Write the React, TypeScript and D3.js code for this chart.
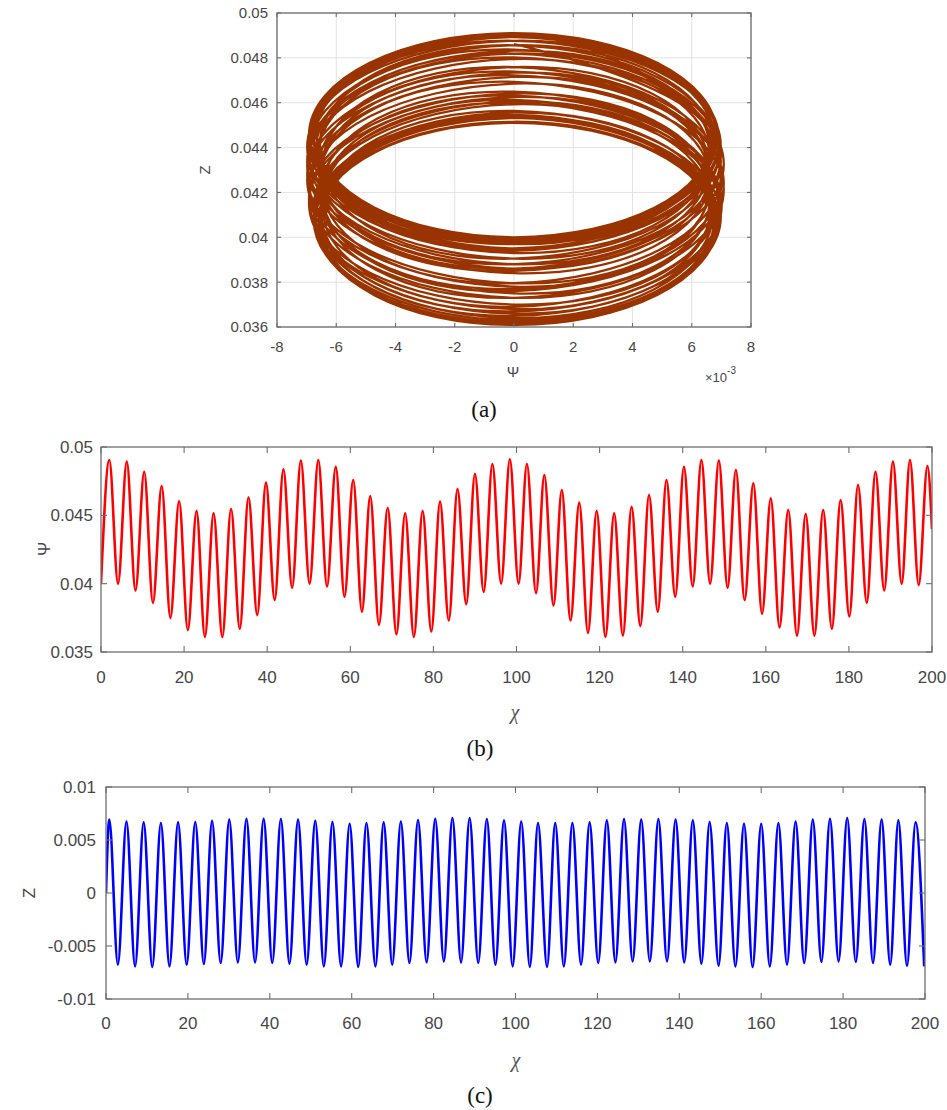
import React from "react";
import * as d3 from "d3";

// ---------------- DATA ----------------
// Panel (b): Ψ vs χ — extremes of the red oscillation
const psiStart = [0, 0.04];
const psiEnd = [200, 0.044];
const psiPeakChi = [2.0, 6.2, 10.4, 14.6, 18.8, 23.0, 27.1, 31.3, 35.5, 39.7, 43.9, 48.1, 52.3, 56.5, 60.7, 64.8, 69.0, 73.2, 77.4, 81.6, 85.8, 90.0, 94.2, 98.4, 102.5, 106.7, 110.9, 115.1, 119.3, 123.5, 127.7, 131.9, 136.1, 140.3, 144.5, 148.7, 152.8, 157.0, 161.2, 165.4, 169.6, 173.8, 178.0, 182.2, 186.4, 190.6, 194.7, 198.9];
const psiPeakVal = [0.04905, 0.04893, 0.04819, 0.04715, 0.04605, 0.04532, 0.04515, 0.04546, 0.04632, 0.04739, 0.04837, 0.049, 0.04905, 0.04856, 0.04759, 0.04641, 0.04556, 0.04515, 0.04532, 0.046, 0.04693, 0.04802, 0.04876, 0.0491, 0.04876, 0.04795, 0.04685, 0.04593, 0.04532, 0.04515, 0.04563, 0.04649, 0.04759, 0.04856, 0.04905, 0.049, 0.04832, 0.04734, 0.04625, 0.04539, 0.0451, 0.04539, 0.04612, 0.04722, 0.04819, 0.04893, 0.04905, 0.04861];
const psiTroughChi = [4.1, 8.3, 12.5, 16.7, 20.9, 25.0, 29.2, 33.4, 37.6, 41.8, 46.0, 50.2, 54.4, 58.6, 62.8, 66.9, 71.1, 75.3, 79.5, 83.7, 87.9, 92.1, 96.3, 100.5, 104.7, 108.9, 113.0, 117.2, 121.4, 125.6, 129.8, 134.0, 138.2, 142.4, 146.6, 150.8, 154.9, 159.1, 163.3, 167.5, 171.7, 175.9, 180.1, 184.3, 188.5, 192.7, 196.8];
const psiTroughVal = [0.04, 0.0395, 0.0386, 0.0375, 0.0366, 0.0361, 0.0361, 0.0367, 0.0377, 0.0388, 0.0397, 0.04, 0.0398, 0.03905, 0.03795, 0.037, 0.0363, 0.0361, 0.0365, 0.0373, 0.0385, 0.0394, 0.04, 0.04, 0.0393, 0.0384, 0.0373, 0.0364, 0.0361, 0.0362, 0.0369, 0.03795, 0.03905, 0.0398, 0.04, 0.0397, 0.0388, 0.0378, 0.0368, 0.0362, 0.0362, 0.0367, 0.0376, 0.0386, 0.0395, 0.04, 0.0399];

// Panel (c): Z vs χ — extremes of the blue oscillation
const zStart = [0, 0.0];
const zPeakChi = [0.8, 5.0, 9.2, 13.4, 17.6, 21.8, 25.9, 30.1, 34.3, 38.5, 42.7, 46.9, 51.1, 55.3, 59.5, 63.6, 67.8, 72.0, 76.2, 80.4, 84.6, 88.8, 93.0, 97.2, 101.4, 105.5, 109.7, 113.9, 118.1, 122.3, 126.5, 130.7, 134.9, 139.1, 143.3, 147.4, 151.6, 155.8, 160.0, 164.2, 168.4, 172.6, 176.8, 181.0, 185.2, 189.4, 193.5, 197.7];
const zPeakVal = [0.00692, 0.00675, 0.00666, 0.0066, 0.00666, 0.0067, 0.00682, 0.00692, 0.00701, 0.00701, 0.00698, 0.00692, 0.00682, 0.0067, 0.00654, 0.0066, 0.00666, 0.00675, 0.00689, 0.00699, 0.00708, 0.00708, 0.00698, 0.00685, 0.00675, 0.0066, 0.0066, 0.0066, 0.00666, 0.00685, 0.00698, 0.00692, 0.00698, 0.00692, 0.00685, 0.0067, 0.0066, 0.00654, 0.00654, 0.0066, 0.00675, 0.00692, 0.00701, 0.00708, 0.00698, 0.00692, 0.00685, 0.00666];
const zTroughChi = [2.9, 7.1, 11.3, 15.5, 19.7, 23.9, 28.0, 32.2, 36.4, 40.6, 44.8, 49.0, 53.2, 57.4, 61.6, 65.8, 69.9, 74.1, 78.3, 82.5, 86.7, 90.9, 95.1, 99.3, 103.5, 107.7, 111.8, 116.0, 120.2, 124.4, 128.6, 132.8, 137.0, 141.2, 145.4, 149.6, 153.7, 157.9, 162.1, 166.3, 170.5, 174.7, 178.9, 183.1, 187.3, 191.5, 195.6, 199.8];
const zTroughVal = [-0.00676, -0.00692, -0.00698, -0.00692, -0.00676, -0.0067, -0.0066, -0.00655, -0.00655, -0.0066, -0.00667, -0.00676, -0.00692, -0.00692, -0.00698, -0.00692, -0.00676, -0.0066, -0.00655, -0.00645, -0.00655, -0.0066, -0.00676, -0.00692, -0.00698, -0.00698, -0.00692, -0.00676, -0.0066, -0.00655, -0.00645, -0.00645, -0.00645, -0.00655, -0.00667, -0.00686, -0.00692, -0.00698, -0.00692, -0.00676, -0.0066, -0.00651, -0.00645, -0.00651, -0.0066, -0.00676, -0.00686, -0.00692];

// Tick labels
const aXTicks = [-8, -6, -4, -2, 0, 2, 4, 6, 8]; // ×10^-3
const aYTicks = [0.036, 0.038, 0.04, 0.042, 0.044, 0.046, 0.048, 0.05];
const bYTicks = [0.035, 0.04, 0.045, 0.05];
const cYTicks = [-0.01, -0.005, 0, 0.005, 0.01];
const chiTicks = [0, 20, 40, 60, 80, 100, 120, 140, 160, 180, 200];

// ---------------- helpers ----------------
type P = { chi: number; v: number; kind: string };

function merge(start: number[] | null, end: number[] | null, pc: number[], pv: number[], tc: number[], tv: number[]): P[] {
  const pts: P[] = [];
  if (start) pts.push({ chi: start[0], v: start[1], kind: "s" });
  pc.forEach((c, i) => pts.push({ chi: c, v: pv[i], kind: "p" }));
  tc.forEach((c, i) => pts.push({ chi: c, v: tv[i], kind: "t" }));
  if (end) pts.push({ chi: end[0], v: end[1], kind: "e" });
  return pts.sort((a, b) => a.chi - b.chi);
}

const FONT = "'Liberation Sans', Arial, sans-serif";
const SERIF = "'Liberation Serif', 'DejaVu Serif', serif";
const TXT = "#474747";
const BOX = "#6e6e6e";

function fmt(v: number) {
  return String(parseFloat(v.toFixed(4)));
}

interface BoxProps {
  l: number; r: number; t: number; b: number;
  xs: d3.ScaleLinear<number, number>;
  ys: d3.ScaleLinear<number, number>;
  xt: number[]; yt: number[];
  xLab: (v: number) => string; yLab: (v: number) => string;
  tick: number; fs: number;
  xLabY: number; yLabX: number;
}

function Grid(p: BoxProps) {
  const { l, r, t, b, xs, ys, xt, yt } = p;
  return (
    <g stroke="#e2e2e2" strokeWidth={1}>
      {xt.map((v) => <line key={"gx" + v} x1={xs(v)} x2={xs(v)} y1={t} y2={b} />)}
      {yt.map((v) => <line key={"gy" + v} x1={l} x2={r} y1={ys(v)} y2={ys(v)} />)}
    </g>
  );
}

function FrameTop(p: BoxProps) {
  const { l, r, t, b, xs, ys, xt, yt, tick, fs } = p;
  return (
    <g>
      <rect x={l} y={t} width={r - l} height={b - t} fill="none" stroke={BOX} strokeWidth={1.3} />
      <g stroke={BOX} strokeWidth={1.1}>
        {xt.map((v) => (
          <g key={"tx" + v}>
            <line x1={xs(v)} x2={xs(v)} y1={b} y2={b - tick} />
            <line x1={xs(v)} x2={xs(v)} y1={t} y2={t + tick} />
          </g>
        ))}
        {yt.map((v) => (
          <g key={"ty" + v}>
            <line x1={l} x2={l + tick} y1={ys(v)} y2={ys(v)} />
            <line x1={r} x2={r - tick} y1={ys(v)} y2={ys(v)} />
          </g>
        ))}
      </g>
      <g fill={TXT} fontFamily={FONT} fontSize={fs}>
        {xt.map((v) => (
          <text key={"lx" + v} x={xs(v)} y={p.xLabY} textAnchor="middle">{p.xLab(v)}</text>
        ))}
        {yt.map((v) => (
          <text key={"ly" + v} x={p.yLabX} y={ys(v)} dy="0.36em" textAnchor="end">{p.yLab(v)}</text>
        ))}
      </g>
    </g>
  );
}

export default function App() {
  // ---- layouts ----
  const A = { l: 277, r: 751, t: 13, b: 327 };
  const B = { l: 101, r: 932, t: 447, b: 652 };
  const C = { l: 106, r: 925, t: 787, b: 999 };

  const ax = d3.scaleLinear().domain([-0.008, 0.008]).range([A.l, A.r]);
  const ay = d3.scaleLinear().domain([0.036, 0.05]).range([A.b, A.t]);
  const bx = d3.scaleLinear().domain([0, 200]).range([B.l, B.r]);
  const by = d3.scaleLinear().domain([0.035, 0.05]).range([B.b, B.t]);
  const cx = d3.scaleLinear().domain([0, 200]).range([C.l, C.r]);
  const cy = d3.scaleLinear().domain([-0.01, 0.01]).range([C.b, C.t]);

  const psiPts = merge(psiStart, psiEnd, psiPeakChi, psiPeakVal, psiTroughChi, psiTroughVal);
  const zPts = merge(zStart, null, zPeakChi, zPeakVal, zTroughChi, zTroughVal);

  const lineB = d3.line<P>().x((d) => bx(d.chi)).y((d) => by(d.v)).curve(d3.curveMonotoneX);
  const lineC = d3.line<P>().x((d) => cx(d.chi)).y((d) => cy(d.v)).curve(d3.curveMonotoneX);

  // phase portrait: Ψ extremes occur at Z≈0; at Z extremes Ψ sits midway between its neighbouring extremes
  type Q = { x: number; y: number; chi: number };
  const psiExt = psiPts.filter((d) => d.kind !== "e");
  const phase: Q[] = [];
  zPts.forEach((d) => {
    if (d.kind !== "p" && d.kind !== "t") return;
    const prev = [...psiExt].reverse().find((e) => e.chi < d.chi);
    const next = psiExt.find((e) => e.chi > d.chi);
    if (!prev || !next) return;
    phase.push({ x: d.v, y: (prev.v + next.v) / 2, chi: d.chi });
  });
  const firstChi = phase.length ? phase[0].chi : 0;
  const lastChi = phase.length ? phase[phase.length - 1].chi : 0;
  psiExt.forEach((d) => {
    if (d.kind === "s") return;
    if (d.chi > firstChi && d.chi < lastChi + 3) phase.push({ x: 0, y: d.v, chi: d.chi });
  });
  phase.sort((a, b) => a.chi - b.chi);
  const lineA = d3.line<Q>().x((d) => ax(d.x)).y((d) => ay(d.y)).curve(d3.curveCardinal.tension(-0.657));

  const chiLab = (v: number) => String(v);
  const aXT = aXTicks.map((v) => v / 1000);
  const aXLab = (v: number) => String(Math.round(v * 1000));

  return (
    <svg width={947} height={1110} style={{ position: "absolute", left: 0, top: 0, background: "#fff" }}>
      <defs>
        <clipPath id="clipA"><rect x={A.l} y={A.t} width={A.r - A.l} height={A.b - A.t} /></clipPath>
        <clipPath id="clipB"><rect x={B.l} y={B.t - 2} width={B.r - B.l} height={B.b - B.t + 4} /></clipPath>
        <clipPath id="clipC"><rect x={C.l} y={C.t} width={C.r - C.l} height={C.b - C.t} /></clipPath>
      </defs>
      <rect x={0} y={0} width={947} height={1110} fill="#fff" />

      {/* ---------- Panel (a) ---------- */}
      <Grid {...A} xs={ax} ys={ay} xt={aXT} yt={aYTicks} xLab={aXLab} yLab={fmt} tick={4} fs={15} xLabY={352} yLabX={268} />
      <path d={lineA(phase) || ""} fill="none" stroke="#993300" strokeWidth={2.3} clipPath="url(#clipA)" />
      <FrameTop {...A} xs={ax} ys={ay} xt={aXT} yt={aYTicks} xLab={aXLab} yLab={fmt} tick={4} fs={15} xLabY={352} yLabX={268} />
      <text x={205} y={170} transform="rotate(-90 205 170)" dy="0.36em" textAnchor="middle" fontFamily={FONT} fontSize={15} fill={TXT}>Z</text>
      <text x={513} y={377} textAnchor="middle" fontFamily={FONT} fontSize={15} fill={TXT}>Ψ</text>
      <text x={705} y={382} fontFamily={FONT} fontSize={13} fill={TXT}>
        ×10<tspan dy={-8} fontSize={10}>-3</tspan>
      </text>
      <text x={484} y={417} textAnchor="middle" fontFamily={SERIF} fontSize={23} fill="#111">(a)</text>

      {/* ---------- Panel (b) ---------- */}
      <path d={lineB(psiPts) || ""} fill="none" stroke="#ff0000" strokeWidth={2.6} clipPath="url(#clipB)" />
      <FrameTop {...B} xs={bx} ys={by} xt={chiTicks} yt={bYTicks} xLab={chiLab} yLab={fmt}
        tick={6} fs={17} xLabY={683} yLabX={93} />
      <text x={44} y={549} transform="rotate(-90 44 549)" dy="0.36em" textAnchor="middle" fontFamily={FONT} fontSize={17} fill={TXT}>Ψ</text>
      <text x={515} y={719} textAnchor="middle" fontFamily={SERIF} fontStyle="italic" fontSize={20} fill="#555">χ</text>
      <text x={480} y={756} textAnchor="middle" fontFamily={SERIF} fontSize={23} fill="#111">(b)</text>

      {/* ---------- Panel (c) ---------- */}
      <path d={lineC(zPts) || ""} fill="none" stroke="#0000ff" strokeWidth={2.6} clipPath="url(#clipC)" />
      <FrameTop {...C} xs={cx} ys={cy} xt={chiTicks} yt={cYTicks} xLab={chiLab} yLab={fmt}
        tick={6} fs={17} xLabY={1029} yLabX={96} />
      <text x={29} y={893} transform="rotate(-90 29 893)" dy="0.36em" textAnchor="middle" fontFamily={FONT} fontSize={17} fill={TXT}>Z</text>
      <text x={516} y={1067} textAnchor="middle" fontFamily={SERIF} fontStyle="italic" fontSize={20} fill="#555">χ</text>
      <text x={480} y={1103} textAnchor="middle" fontFamily={SERIF} fontSize={23} fill="#111">(c)</text>
    </svg>
  );
}
